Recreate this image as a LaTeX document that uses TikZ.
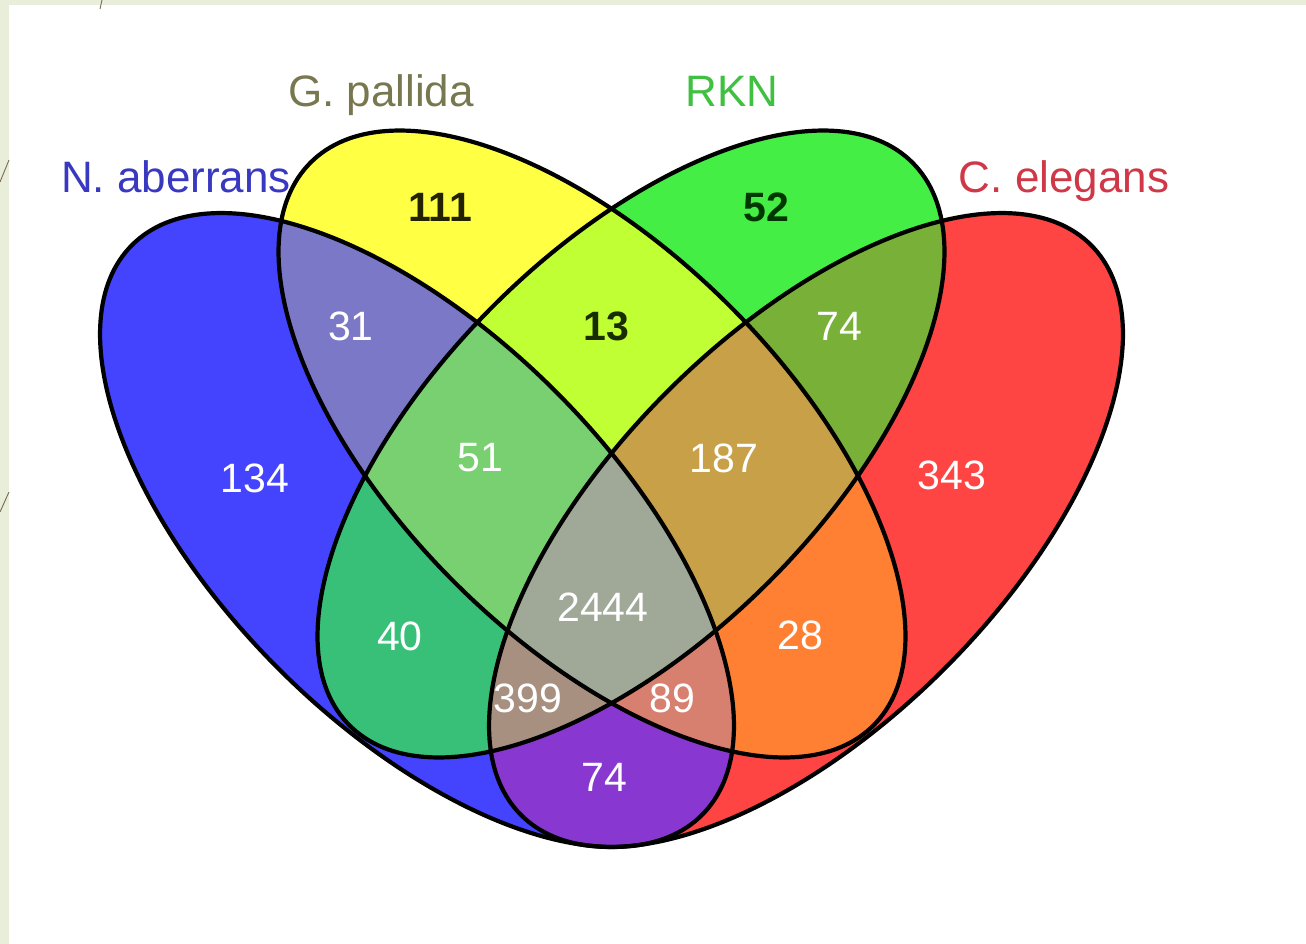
\documentclass[tikz,border=0pt]{standalone}
\usepackage{fontspec}
\setmainfont{Liberation Sans}
\definecolor{cA}{RGB}{68,68,255}
\definecolor{cB}{RGB}{255,255,68}
\definecolor{cC}{RGB}{68,238,68}
\definecolor{cD}{RGB}{255,68,68}
\definecolor{cAB}{RGB}{124,120,200}
\definecolor{cAC}{RGB}{56,192,120}
\definecolor{cAD}{RGB}{136,56,208}
\definecolor{cBC}{RGB}{192,255,51}
\definecolor{cBD}{RGB}{255,128,51}
\definecolor{cCD}{RGB}{120,176,56}
\definecolor{cABC}{RGB}{120,208,112}
\definecolor{cABD}{RGB}{216,128,112}
\definecolor{cACD}{RGB}{168,144,128}
\definecolor{cBCD}{RGB}{200,160,72}
\definecolor{cABCD}{RGB}{160,168,152}
\definecolor{tA}{RGB}{56,56,192}
\definecolor{tB}{RGB}{120,120,80}
\definecolor{tC}{RGB}{64,192,64}
\definecolor{tD}{RGB}{208,56,72}
\definecolor{dB}{RGB}{35,35,0}
\definecolor{dBC}{RGB}{25,45,0}
\definecolor{dC}{RGB}{0,55,0}
\definecolor{framecol}{RGB}{232,238,218}
\definecolor{wispcol}{RGB}{122,106,80}
\newcommand\ellA[1]{\path[#1,rotate around={-45:(417,530)}] (417,530) ellipse [x radius=403pt,y radius=196pt];}
\newcommand\ellB[1]{\path[#1,rotate around={-45:(592,444)}] (592,444) ellipse [x radius=398pt,y radius=195pt];}
\newcommand\ellC[1]{\path[#1,rotate around={45:(631,444)}] (631,444) ellipse [x radius=398pt,y radius=195pt];}
\newcommand\ellD[1]{\path[#1,rotate around={45:(806,530)}] (806,530) ellipse [x radius=403pt,y radius=196pt];}
\begin{document}
\begin{tikzpicture}[x=1pt,y=-1pt,
  num/.style={font=\fontsize{41}{49}\selectfont, text=white, inner sep=0pt},
  dnum/.style={font=\fontsize{41}{49}\selectfont\bfseries, inner sep=0pt},
  title/.style={font=\fontsize{44}{53}\selectfont, inner sep=0pt, anchor=base},
  outline/.style={draw=black, line width=4.2pt},
  wisp/.style={draw=wispcol, line width=0.9pt}]
\useasboundingbox (0,0) rectangle (1306,944);
\fill[white] (0,0) rectangle (1306,944);
\fill[framecol] (0,0) rectangle (9,944);
\fill[framecol] (0,0) rectangle (1306,5);
\coordinate (w1a) at (0,182); \coordinate (w1b) at (9,160);
\coordinate (w2a) at (0,512); \coordinate (w2b) at (9,492);
\coordinate (w3a) at (102,0); \coordinate (w3b) at (100,9);
\draw[wisp] (w1a) -- (w1b);
\draw[wisp] (w2a) -- (w2b);
\draw[wisp] (w3a) -- (w3b);
% single sets
\ellA{fill=cA}
\ellB{fill=cB}
\ellC{fill=cC}
\ellD{fill=cD}
% pairs
\begin{scope}\ellA{clip}\ellB{fill=cAB}\end{scope}
\begin{scope}\ellA{clip}\ellC{fill=cAC}\end{scope}
\begin{scope}\ellA{clip}\ellD{fill=cAD}\end{scope}
\begin{scope}\ellB{clip}\ellC{fill=cBC}\end{scope}
\begin{scope}\ellB{clip}\ellD{fill=cBD}\end{scope}
\begin{scope}\ellC{clip}\ellD{fill=cCD}\end{scope}
% triples
\begin{scope}\ellA{clip}\ellB{clip}\ellC{fill=cABC}\end{scope}
\begin{scope}\ellA{clip}\ellB{clip}\ellD{fill=cABD}\end{scope}
\begin{scope}\ellA{clip}\ellC{clip}\ellD{fill=cACD}\end{scope}
\begin{scope}\ellB{clip}\ellC{clip}\ellD{fill=cBCD}\end{scope}
% all four
\begin{scope}\ellA{clip}\ellB{clip}\ellC{clip}\ellD{fill=cABCD}\end{scope}
% outlines
\ellA{outline}
\ellB{outline}
\ellC{outline}
\ellD{outline}
% set titles
\node[title, text=tA] (tN) at (176,193) {N. aberrans};
\node[title, text=tB] (tG) at (381,107) {G. pallida};
\node[title, text=tC] (tR) at (732,107) {RKN};
\node[title, text=tD] (tCe) at (1064,193) {C. elegans};
% counts
\node[num] (n134) at (255,478) {134};
\node[dnum, text=dB] (n111) at (440,207) {111};
\node[dnum, text=dC] (n52) at (766,207) {52};
\node[num] (n343) at (952,475) {343};
\node[num] (n31) at (351,326) {31};
\node[dnum, text=dBC] (n13) at (606,326) {13};
\node[num] (n74a) at (839,326) {74};
\node[num] (n51) at (480,458) {51};
\node[num] (n187) at (724,458) {187};
\node[num] (n40) at (400,636) {40};
\node[num] (n2444) at (603,607) {2444};
\node[num] (n28) at (800,635) {28};
\node[num] (n399) at (528,698) {399};
\node[num] (n89) at (672,698) {89};
\node[num] (n74b) at (604,777) {74};
\end{tikzpicture}
\end{document}
